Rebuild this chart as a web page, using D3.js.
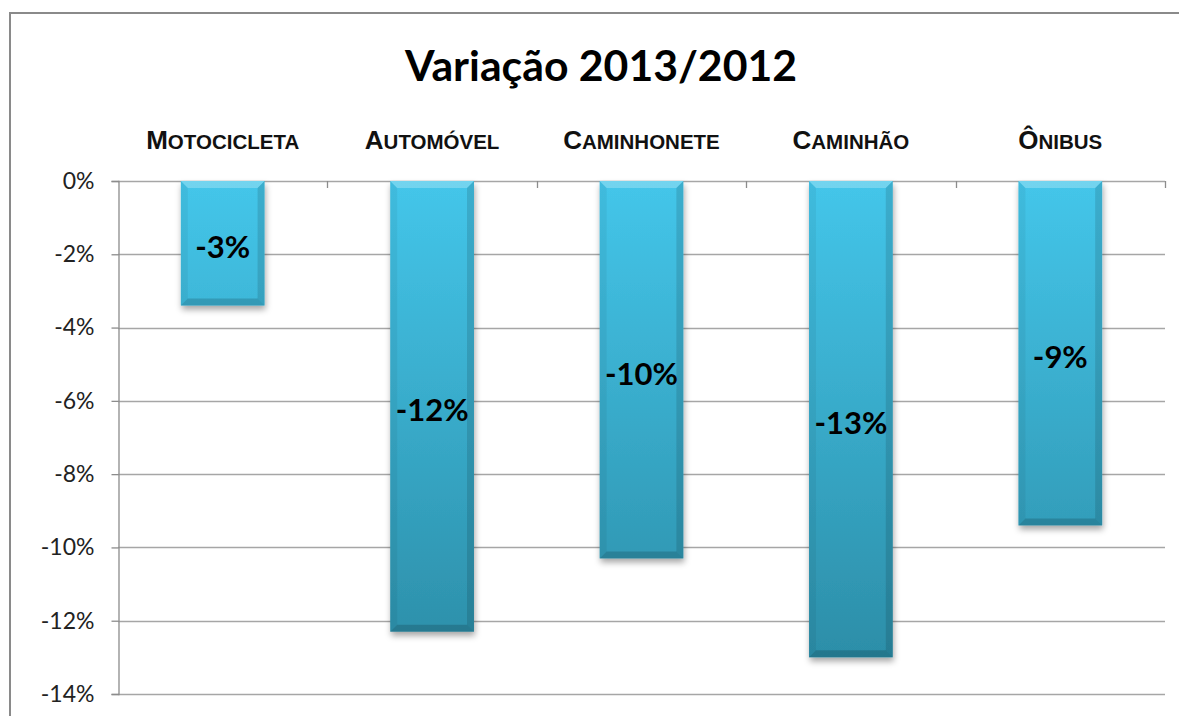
<!DOCTYPE html>
<html>
<head>
<meta charset="utf-8">
<script src="https://cdn.jsdelivr.net/npm/d3@7"></script>
<style>
  html, body { margin: 0; padding: 0; background: #fff; }
  svg { display: block; }
</style>
</head>
<body>
<svg id="chart" width="1179" height="716"></svg>
<script>
const title = "Variação 2013/2012";
const categories = ["Motocicleta", "Automóvel", "Caminhonete", "Caminhão", "Ônibus"];
const values = [-3.4, -12.3, -10.3, -13.0, -9.4];
const yTicks = [0, -2, -4, -6, -8, -10, -12, -14];

const W = 1179, H = 716;
const plot = { left: 118, right: 1165, top: 181, bottom: 694 };

const svg = d3.select("#chart");
const defs = svg.append("defs");

const x = d3.scaleBand().domain(categories).range([plot.left, plot.right]).padding(0);
const y = d3.scaleLinear().domain([-14, 0]).range([plot.bottom, plot.top]);
const barW = x.bandwidth() * 0.40;
const pct = d => d3.format(".0%")(d / 100).replace("\u2212", "-");

const grad = defs.append("linearGradient")
  .attr("id", "barGrad").attr("gradientUnits", "userSpaceOnUse")
  .attr("x1", 0).attr("x2", 0).attr("y1", y(0)).attr("y2", y(-13));
grad.append("stop").attr("offset", "0%").attr("stop-color", "#44c6ea");
grad.append("stop").attr("offset", "100%").attr("stop-color", "#2c8ea8");

const sh = defs.append("filter").attr("id", "shadow")
  .attr("x", "-20%").attr("y", "-10%").attr("width", "140%").attr("height", "130%");
sh.append("feDropShadow").attr("dx", 1).attr("dy", 4).attr("stdDeviation", 3)
  .attr("flood-color", "#000").attr("flood-opacity", 0.35);

// frame
svg.append("path").attr("d", `M10,${H} L10,13 L${W},13`)
  .attr("fill", "none").attr("stroke", "#8a8a8a").attr("stroke-width", 2);

// title
svg.append("text").attr("x", 601).attr("y", 81)
  .attr("text-anchor", "middle")
  .attr("font-family", "Lato, 'Open Sans', sans-serif").attr("font-weight", 700)
  .attr("font-size", 42).attr("fill", "#000")
  .attr("textLength", 392).attr("lengthAdjust", "spacingAndGlyphs")
  .text(title);

// gridlines
svg.append("g").selectAll("line").data(yTicks).join("line")
  .attr("x1", plot.left).attr("x2", plot.right)
  .attr("y1", d => Math.round(y(d)) + 0.5).attr("y2", d => Math.round(y(d)) + 0.5)
  .attr("stroke", "#a6a6a6").attr("stroke-width", 1.3);

// y axis
const yAxis = d3.axisLeft(y).tickValues(yTicks).tickSize(7).tickPadding(17)
  .tickFormat(d => d + "%");
const gy = svg.append("g").attr("transform", `translate(${plot.left + 0.5},0)`).call(yAxis);
gy.select(".domain").attr("stroke", "#8c8c8c").attr("stroke-width", 1.3);
gy.selectAll(".tick line").attr("stroke", "#8c8c8c").attr("stroke-width", 1.3);
gy.selectAll(".tick text")
  .attr("font-family", "Lato, 'Open Sans', sans-serif").attr("font-size", 23)
  .attr("fill", "#222");

// category ticks on zero line
const catEdges = categories.map(c => x(c)).concat([plot.right]);
svg.append("g").selectAll("line").data(catEdges.slice(1)).join("line")
  .attr("x1", d => Math.round(d) + 0.5).attr("x2", d => Math.round(d) + 0.5)
  .attr("y1", y(0)).attr("y2", y(0) + 7)
  .attr("stroke", "#8c8c8c").attr("stroke-width", 1.3);

// category labels (small caps)
const catG = svg.append("g");
categories.forEach(c => {
  const t = catG.append("text")
    .attr("x", x(c) + x.bandwidth() / 2).attr("y", 149)
    .attr("text-anchor", "middle")
    .attr("font-family", "'Liberation Sans', Arial, sans-serif").attr("font-weight", 700)
    .attr("fill", "#111");
  t.append("tspan").attr("font-size", 26).text(c[0].toUpperCase());
  t.append("tspan").attr("font-size", 20.5).text(c.slice(1).toUpperCase());
});

// bars
const bevel = 7;
const bars = svg.append("g").selectAll("g").data(categories.map((c, i) => ({ c, v: values[i] })))
  .join("g");
bars.each(function (d) {
  const g = d3.select(this);
  const x0 = x(d.c) + (x.bandwidth() - barW) / 2, x1 = x0 + barW;
  const y0 = y(0), y1 = y(d.v);
  g.append("rect").attr("x", x0).attr("y", y0).attr("width", barW).attr("height", y1 - y0)
    .attr("fill", "url(#barGrad)").attr("filter", "url(#shadow)");
  g.append("path")
    .attr("d", `M${x0},${y0} L${x1},${y0} L${x1 - bevel},${y0 + bevel} L${x0 + bevel},${y0 + bevel} Z`)
    .attr("fill", "#ffffff").attr("opacity", 0.25);
  g.append("path")
    .attr("d", `M${x0},${y0} L${x0 + bevel},${y0 + bevel} L${x0 + bevel},${y1 - bevel} L${x0},${y1} Z`)
    .attr("fill", "#000").attr("opacity", 0.05);
  g.append("path")
    .attr("d", `M${x1},${y0} L${x1 - bevel},${y0 + bevel} L${x1 - bevel},${y1 - bevel} L${x1},${y1} Z`)
    .attr("fill", "#000").attr("opacity", 0.12);
  g.append("path")
    .attr("d", `M${x0},${y1} L${x0 + bevel},${y1 - bevel} L${x1 - bevel},${y1 - bevel} L${x1},${y1} Z`)
    .attr("fill", "#000").attr("opacity", 0.16);
  g.append("text")
    .attr("x", (x0 + x1) / 2).attr("y", (y0 + y1) / 2 + 3)
    .attr("text-anchor", "middle").attr("dominant-baseline", "central")
    .attr("font-family", "Lato, 'Open Sans', sans-serif").attr("font-weight", 700)
    .attr("font-size", 31).attr("fill", "#000")
    .text(pct(d.v));
});
</script>
</body>
</html>
